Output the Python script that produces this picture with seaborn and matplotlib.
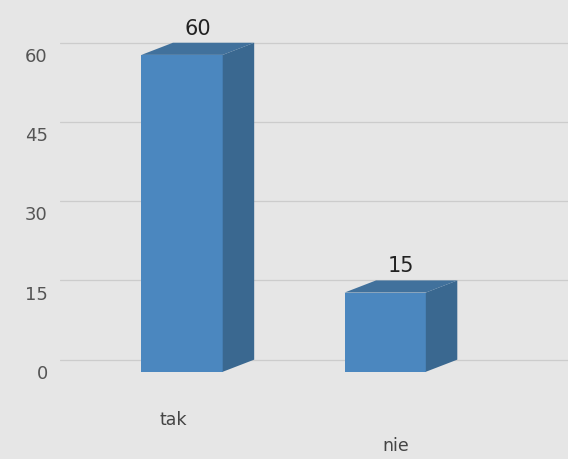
import matplotlib
matplotlib.use("Agg")
import matplotlib.pyplot as plt
import seaborn as sns
import pandas as pd
from matplotlib.patches import Polygon

categories = ["tak", "nie"]
values = [60, 15]
yticks = [0, 15, 30, 45, 60]

df = pd.DataFrame({"kategoria": categories, "liczba": values})

sns.set_theme(style="white")
plt.rcParams['font.family'] = ['DejaVu Sans']

fig = plt.figure(figsize=(5.68, 4.59), dpi=100)
fig.patch.set_facecolor("#e6e6e6")
ax = fig.add_axes([0.106, 0.19, 0.894, 0.771])
ax.set_facecolor("#e6e6e6")

front = "#4b87bf"
side = "#3a6890"
top = "#41719c"

sns.barplot(data=df, x="kategoria", y="liczba", color=front, width=0.4,
            saturation=1, ax=ax, zorder=3)

ax.set_xlim(-0.6, 1.9)
ax.set_ylim(0, 67)

dx, dy = 0.155, 2.3
for p in ax.patches:
    x0 = p.get_x()
    w = p.get_width()
    h = p.get_height()
    p.set_edgecolor("none")
    side_poly = Polygon([(x0 + w, 0), (x0 + w + dx, dy), (x0 + w + dx, h + dy), (x0 + w, h)],
                        closed=True, facecolor=side, edgecolor="none", zorder=3)
    top_poly = Polygon([(x0, h), (x0 + dx, h + dy), (x0 + w + dx, h + dy), (x0 + w, h)],
                       closed=True, facecolor=top, edgecolor="none", zorder=3)
    ax.add_patch(side_poly)
    ax.add_patch(top_poly)
    ax.text(x0 + w / 2 + dx * 0.5, h + dy + 0.8, f"{int(h)}", ha="center", va="bottom",
            fontsize=15, color="#222222", zorder=4)

ax.set_yticks(yticks)
ax.set_yticklabels([str(t) for t in yticks], fontsize=13, color="#555555")
ax.tick_params(axis="y", length=0, pad=9)
for t in yticks:
    ax.axhline(t + dy, color="#cccccc", lw=0.9, zorder=1)

ax.set_xticks([])
ax.set_xlabel("")
ax.set_ylabel("")
label_x = [-0.045, 1.05]
label_y = [-0.136, -0.21]
for c, lx, ly in zip(categories, label_x, label_y):
    ax.text(lx, ly, c, transform=ax.get_xaxis_transform(), ha="center",
            va="center", fontsize=12.5, color="#444444")

for s in ax.spines.values():
    s.set_visible(False)

fig.savefig("out.png", dpi=100, facecolor=fig.get_facecolor())
